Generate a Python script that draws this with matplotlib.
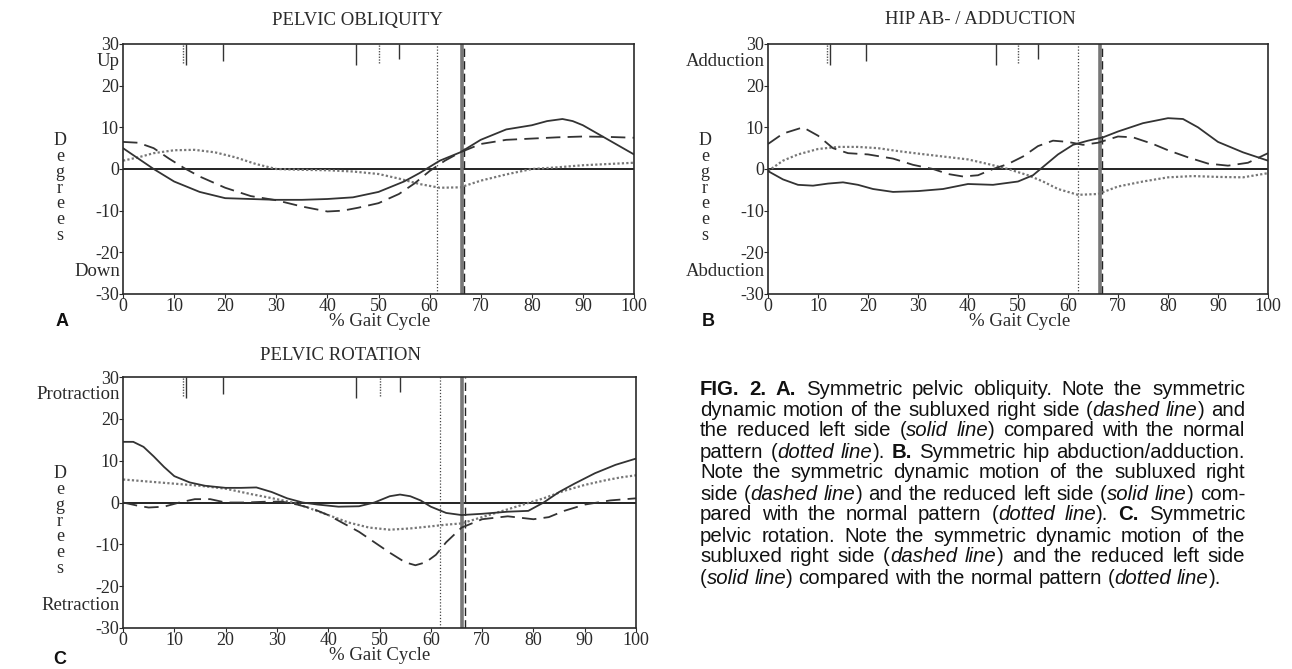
import numpy as np
import matplotlib
matplotlib.use("Agg")
import matplotlib.pyplot as plt

# ---- data (% gait cycle, degrees) ----
# A: pelvic obliquity
a_solid_x = [0, 3, 6, 10, 15, 20, 25, 30, 35, 40, 45, 50, 55, 58, 60, 62, 66, 70, 75, 80, 83, 86, 88, 90, 95, 100]
a_solid_y = [5, 2.5, 0, -3, -5.5, -7, -7.2, -7.4, -7.4, -7.2, -6.8, -5.5, -3, -1, 0.5, 2, 4, 7, 9.5, 10.5, 11.5, 12, 11.5, 10.5, 7, 3.5]
a_dash_x = [0, 3, 6, 9, 12, 15, 20, 25, 30, 35, 40, 43, 46, 50, 54, 57, 60, 63, 66, 70, 75, 80, 85, 90, 95, 100]
a_dash_y = [6.5, 6.3, 5, 2.5, 0.2, -1.8, -4.5, -6.5, -7.5, -9, -10.2, -10, -9.3, -8.2, -6, -3.5, -0.5, 2, 4, 6, 7, 7.3, 7.6, 7.8, 7.7, 7.5]
a_dot_x = [0, 3, 6, 10, 14, 18, 22, 26, 30, 35, 40, 45, 50, 54, 58, 62, 66, 70, 75, 80, 85, 90, 95, 100]
a_dot_y = [2, 2.8, 3.8, 4.5, 4.6, 4.0, 2.8, 1.2, 0, -0.2, -0.3, -0.6, -1.2, -2.3, -3.6, -4.5, -4.4, -2.8, -1.3, 0, 0.4, 0.9, 1.2, 1.5]

# B: hip ab-/adduction
b_solid_x = [0, 3, 6, 9, 12, 15, 18, 21, 25, 30, 35, 40, 45, 50, 53, 55, 58, 61, 64, 67, 70, 75, 80, 83, 86, 90, 95, 100]
b_solid_y = [-0.5, -2.5, -3.8, -4, -3.5, -3.2, -3.8, -4.8, -5.5, -5.3, -4.8, -3.6, -3.8, -3, -1.5, 0.5, 3.5, 5.8, 6.8, 7.6, 9, 11, 12.2, 12, 10, 6.5, 4, 2]
b_dash_x = [0, 3, 7, 10, 13, 16, 20, 25, 29, 33, 36, 39, 42, 45, 48, 51, 54, 57, 60, 63, 66, 70, 73, 77, 80, 84, 88, 92, 96, 100]
b_dash_y = [6, 8.5, 10, 8, 5, 3.8, 3.5, 2.5, 1, 0, -1.2, -1.8, -1.5, 0, 1.2, 3, 5.5, 6.8, 6.5, 5.8, 6.3, 7.8, 7.6, 6, 4.5, 2.8, 1.3, 0.8, 1.5, 3.8]
b_dot_x = [0, 3, 6, 10, 14, 18, 22, 26, 30, 35, 40, 44, 48, 52, 55, 58, 62, 66, 70, 75, 80, 85, 90, 95, 100]
b_dot_y = [-0.5, 2, 3.5, 4.8, 5.3, 5.3, 5, 4.3, 3.7, 3, 2.3, 1.2, 0, -1.5, -3, -4.8, -6.2, -6, -4.2, -3, -2, -1.7, -1.9, -2, -1]

# C: pelvic rotation
c_solid_x = [0, 2, 4, 6, 8, 10, 13, 16, 20, 23, 26, 29, 32, 35, 38, 42, 46, 49, 52, 54, 56, 58, 60, 63, 66, 70, 75, 79, 82, 85, 88, 92, 96, 100]
c_solid_y = [14.5, 14.5, 13.3, 11, 8.5, 6.3, 4.8, 4, 3.5, 3.5, 3.6, 2.5, 1, 0, -0.5, -1, -0.9, 0, 1.5, 1.9, 1.5, 0.5, -1, -2.5, -3, -2.7, -2.2, -2, 0, 2.5, 4.5, 7, 9, 10.5]
c_dash_x = [0, 3, 5, 8, 11, 14, 17, 20, 24, 28, 31, 34, 37, 40, 43, 46, 49, 52, 55, 57, 59, 61, 63, 66, 70, 75, 80, 83, 86, 90, 95, 100]
c_dash_y = [0, -0.8, -1.2, -1, 0, 0.8, 0.8, 0, 0, 0.2, 0.2, -0.5, -1.5, -3, -5, -7, -9.5, -12, -14.3, -15, -14.3, -12.5, -9.5, -6, -4, -3.3, -4, -3.5, -2, -0.5, 0.5, 1]
c_dot_x = [0, 5, 10, 15, 20, 25, 30, 33, 36, 40, 44, 48, 52, 56, 60, 63, 66, 70, 74, 78, 82, 86, 90, 94, 97, 100]
c_dot_y = [5.5, 5, 4.5, 4, 3.3, 2, 0.8, 0, -1.2, -3, -4.8, -6, -6.5, -6.2, -5.7, -5.3, -5, -3.5, -2, -0.5, 1, 2.8, 4.2, 5.3, 6, 6.5]

# gait events: toe-off lines and the short event ticks at the top
toe_off = {"A": (61.5, 66.4, 66.7), "B": (62.0, 66.3, 66.8), "C": (61.7, 66.0, 66.7)}
event_solid = [12.3, 19.5, 45.5, 54.0]
event_solid_low = [25.0, 26.0, 25.0, 26.5]
event_dot = [11.7, 50.0]

titles = ["PELVIC OBLIQUITY", "HIP AB- / ADDUCTION", "PELVIC ROTATION"]
up_labels = ["Up", "Adduction", "Protraction"]
down_labels = ["Down", "Abduction", "Retraction"]
panel_letters = ["A", "B", "C"]
xticks = list(range(0, 101, 10))
yticks = [-30, -20, -10, 0, 10, 20, 30]

caption = [
    "**FIG. 2. A.** Symmetric pelvic obliquity. Note the symmetric",
    "dynamic motion of the subluxed right side (*dashed line*) and",
    "the reduced left side (*solid line*) compared with the normal",
    "pattern (*dotted line*). **B.** Symmetric hip abduction/adduction.",
    "Note the symmetric dynamic motion of the subluxed right",
    "side (*dashed line*) and the reduced left side (*solid line*) com-",
    "pared with the normal pattern (*dotted line*). **C.** Symmetric",
    "pelvic rotation. Note the symmetric dynamic motion of the",
    "subluxed right side (*dashed line*) and the reduced left side",
    "(*solid line*) compared with the normal pattern (*dotted line*).",
]

W, H = 1292, 669
fig = plt.figure(figsize=(W / 100, H / 100), dpi=100)
serif = "Liberation Serif"
ink = "#2a2a2a"
fs = 13.5
tfs = 13


def px(x, y):
    return x / W, 1 - y / H


def make_panel(rect, sx, sy, dx, dy, ox, oy, key, idx):
    ax = fig.add_axes(rect)
    ax.set_xlim(0, 100)
    ax.set_ylim(-30, 30)
    ax.set_xticks(xticks)
    ax.set_yticks(yticks)
    ax.set_xticklabels([str(t) for t in xticks], fontfamily=serif, fontsize=tfs)
    ax.set_yticklabels([str(t) for t in yticks], fontfamily=serif, fontsize=tfs)
    ax.tick_params(direction="out", length=3, width=0.8, pad=0, colors=ink)
    for s in ax.spines.values():
        s.set_linewidth(1.2)
        s.set_color(ink)

    ax.axhline(0, color="#111", lw=1.3)
    dot_x, solid_x, dash_x = toe_off[key]
    ax.axvline(dot_x, color="#444", lw=0.9, ls=(0, (1, 1.5)))
    ax.axvline(solid_x, color="#777", lw=2.6)
    ax.axvline(dash_x, color="#222", lw=1.0, ls=(0, (6, 3)))

    ax.vlines(event_solid, event_solid_low, 30, color="#333", lw=1.0)
    ax.vlines(event_dot, 25.5, 30, color="#555", lw=1.0, ls=(0, (1, 1)))

    ax.plot(ox, oy, color="#777", lw=1.6, ls=(0, (1, 1)))
    ax.plot(dx, dy, color="#333", lw=1.3, ls=(0, (8, 4)))
    ax.plot(sx, sy, color="#333", lw=1.3)

    ax.text(-0.6, 25.8, up_labels[idx], ha="right", va="center", fontfamily=serif, fontsize=fs, color=ink)
    ax.text(-0.6, -24.7, down_labels[idx], ha="right", va="center", fontfamily=serif, fontsize=fs, color=ink)
    return ax


make_panel([123 / W, 1 - 294 / H, 511 / W, 250 / H], a_solid_x, a_solid_y, a_dash_x, a_dash_y, a_dot_x, a_dot_y, "A", 0)
make_panel([768 / W, 1 - 294 / H, 500 / W, 250 / H], b_solid_x, b_solid_y, b_dash_x, b_dash_y, b_dot_x, b_dot_y, "B", 1)
make_panel([123 / W, 1 - 628 / H, 513 / W, 251 / H], c_solid_x, c_solid_y, c_dash_x, c_dash_y, c_dot_x, c_dot_y, "C", 2)

# titles, axis labels, panel letters
for (x, y), t in zip([(357, 20), (980, 20), (340, 356)], titles):
    fig.text(*px(x, y), t, ha="center", va="center", fontfamily=serif, fontsize=fs, color=ink)
for x, y in [(380, 321), (1020, 321), (380, 656)]:
    fig.text(*px(x, y), "% Gait Cycle", ha="center", va="center", fontfamily=serif, fontsize=fs, color=ink)
for x, y in [(60, 188), (705, 188), (60, 521)]:
    fig.text(*px(x, y), "\n".join("Degrees"), ha="center", va="center", fontfamily=serif,
             fontsize=13, color=ink, linespacing=0.9)
for (x, y), l in zip([(62, 322), (708, 322), (60, 660)], panel_letters):
    fig.text(*px(x, y), l, ha="center", va="center", fontfamily="Liberation Sans",
             fontsize=13, fontweight="bold", color="#111")


# justified caption with bold / italic runs
def parse(line):
    segs, style, buf, i = [], "n", "", 0
    while i < len(line):
        if line.startswith("**", i):
            if buf:
                segs.append((buf, style))
            buf = ""
            style = "n" if style == "b" else "b"
            i += 2
        elif line[i] == "*":
            if buf:
                segs.append((buf, style))
            buf = ""
            style = "n" if style == "i" else "i"
            i += 1
        else:
            buf += line[i]
            i += 1
    if buf:
        segs.append((buf, style))
    words, cur = [], []
    for text, st in segs:
        parts = text.split(" ")
        for k, p in enumerate(parts):
            if k > 0:
                if cur:
                    words.append(cur)
                cur = []
            if p:
                cur.append((p, st))
    if cur:
        words.append(cur)
    return words


renderer = fig.canvas.get_renderer()
props = {"n": {}, "i": {"fontstyle": "italic"}, "b": {"fontweight": "bold"}}


def width(text, st, size):
    t = fig.text(0, 0, text, fontfamily="Liberation Sans", fontsize=size, **props[st])
    w = t.get_window_extent(renderer).width
    t.remove()
    return w


def line_width(words, size, sp):
    return sum(width(t, s, size) for w in words for t, s in w) + sp * (len(words) - 1)


# pick a size so the last (unjustified) line is as wide as in the scan
x0, x1, y0, dy = 700, 1245, 389, 21
parsed = [parse(l) for l in caption]
base = 12.0
sp0 = width("x x", "n", base) - width("xx", "n", base)
cap_size = base * 522 / line_width(parsed[-1], base, sp0)
space = width("x x", "n", cap_size) - width("xx", "n", cap_size)
widest = max(line_width(w, cap_size, space * 0.6) for w in parsed)
if widest > x1 - x0:
    cap_size *= (x1 - x0) / widest
    space = width("x x", "n", cap_size) - width("xx", "n", cap_size)

for n, words in enumerate(parsed):
    wlen = [sum(width(t, s, cap_size) for t, s in w) for w in words]
    last = n == len(parsed) - 1
    gap = space if last else (x1 - x0 - sum(wlen)) / (len(words) - 1)
    x = x0
    for w, wl in zip(words, wlen):
        xx = x
        for t, s in w:
            fig.text(*px(xx, y0 + n * dy), t, ha="left", va="center", fontfamily="Liberation Sans",
                     fontsize=cap_size, color="#111", **props[s])
            xx += width(t, s, cap_size)
        x += wl + gap

fig.savefig("out.png", dpi=100)
